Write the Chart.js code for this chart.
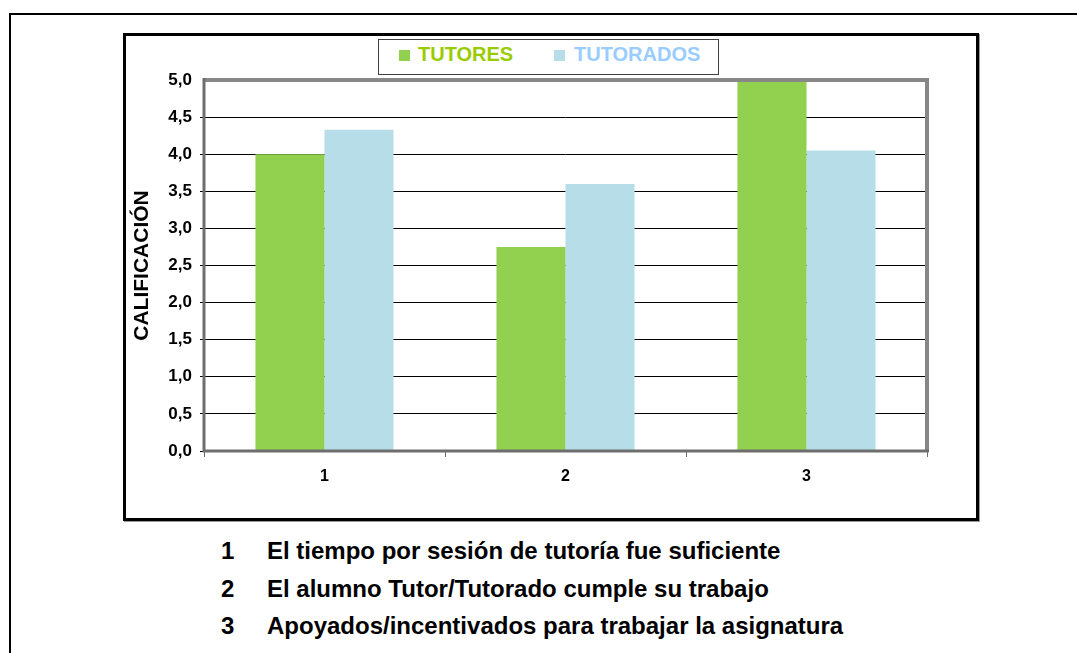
<!DOCTYPE html>
<html>
<head>
<meta charset="utf-8">
<script src="https://cdn.jsdelivr.net/npm/chart.js@4"></script>
<style>
  html, body { margin:0; padding:0; background:#fff; }
  body { width:1077px; height:653px; position:relative; overflow:hidden; font-family:"Liberation Sans", Arial, sans-serif; }
  #outer { position:absolute; left:9px; top:13px; width:1200px; height:800px; border-left:2px solid #000; border-top:2px solid #000; }
  #inner { position:absolute; left:123px; top:33px; width:856px; height:488px; border:3px solid #000; box-sizing:border-box; box-shadow:1px 1px 0 #999; }
  #wrap { position:absolute; left:126px; top:36px; width:850px; height:482px; }
  #legend { position:absolute; left:378px; top:39px; width:341px; height:36px; border:1px solid #404040; box-sizing:border-box; background:#fff; }
  .sw { position:absolute; width:11px; height:11px; top:50px; }
  .lt { position:absolute; top:44px; font:bold 20px "Liberation Sans", Arial, sans-serif; line-height:20px; white-space:nowrap; }
  .note { position:absolute; font:bold 24px "Liberation Sans", Arial, sans-serif; line-height:24px; white-space:nowrap; color:#000; }
</style>
</head>
<body>
<div id="outer"></div>
<div id="inner"></div>
<div id="wrap"><canvas id="c"></canvas></div>
<div id="legend"></div>
<div id="legendItems"></div>
<div id="notes"></div>
<script>
const categories = ["1", "2", "3"];
const seriesNames = ["TUTORES", "TUTORADOS"];
const tutores = [4.0, 2.75, 5.0];
const tutorados = [4.33, 3.6, 4.05];
const yTicks = [0, 0.5, 1, 1.5, 2, 2.5, 3, 3.5, 4, 4.5, 5];
const notes = [
  ["1", "El tiempo por sesión de tutoría fue suficiente"],
  ["2", "El alumno Tutor/Tutorado cumple su trabajo"],
  ["3", "Apoyados/incentivados para trabajar la asignatura"]
];
const barColors = ["#92D050", "#B7DEE8"];
const legendTextColors = ["#99CC00", "#99CCFF"];

// HTML legend
const li = document.getElementById('legendItems');
const legendPos = [[399, 418], [554, 574]];
seriesNames.forEach((n, i) => {
  const s = document.createElement('div');
  s.className = 'sw'; s.style.left = legendPos[i][0] + 'px'; s.style.background = barColors[i];
  li.appendChild(s);
  const t = document.createElement('div');
  t.className = 'lt'; t.style.left = legendPos[i][1] + 'px'; t.style.color = legendTextColors[i];
  t.textContent = n;
  li.appendChild(t);
});
// notes below chart
const nd = document.getElementById('notes');
notes.forEach((n, i) => {
  const a = document.createElement('div');
  a.className = 'note'; a.style.left = '221px'; a.style.top = (539 + i * 37.5) + 'px';
  a.textContent = n[0]; nd.appendChild(a);
  const b = document.createElement('div');
  b.className = 'note'; b.style.left = '267px'; b.style.top = (539 + i * 37.5) + 'px';
  b.textContent = n[1]; nd.appendChild(b);
});

const framePlugin = {
  id: 'frame',
  afterDatasetsDraw(chart) {
    const { ctx, chartArea: a } = chart;
    ctx.save();
    ctx.strokeStyle = '#878787';
    ctx.lineWidth = 4;
    ctx.beginPath();
    ctx.moveTo(a.left, a.top);
    ctx.lineTo(a.right, a.top);
    ctx.lineTo(a.right, a.bottom);
    ctx.stroke();
    ctx.strokeStyle = '#6e6e6e';
    ctx.lineWidth = 3;
    ctx.beginPath();
    ctx.moveTo(a.left, a.top - 2);
    ctx.lineTo(a.left, a.bottom);
    ctx.lineTo(a.right + 2, a.bottom);
    ctx.stroke();
    ctx.restore();
  }
};

new Chart(document.getElementById('c'), {
  type: 'bar',
  data: {
    labels: categories,
    datasets: [
      { label: seriesNames[0], data: tutores, backgroundColor: barColors[0], borderWidth: 0 },
      { label: seriesNames[1], data: tutorados, backgroundColor: barColors[1], borderWidth: 0 }
    ]
  },
  options: {
    responsive: true,
    maintainAspectRatio: false,
    animation: false,
    layout: { padding: { top: 44, right: 49, left: 0, bottom: 0 } },
    plugins: { legend: { display: false }, tooltip: { enabled: false } },
    datasets: { bar: { categoryPercentage: 0.573, barPercentage: 1.0 } },
    scales: {
      x: {
        grid: { offset: true, drawOnChartArea: false, drawTicks: true, tickLength: 6, color: '#6e6e6e', lineWidth: 1 },
        border: { display: false },
        ticks: { color: '#000', font: { family: 'Liberation Sans', weight: 'bold', size: 16 }, padding: 10 },
        afterFit(s) { s.height = 67; }
      },
      y: {
        min: 0, max: 5,
        afterBuildTicks(s) { s.ticks = yTicks.map(v => ({ value: v })); },
        grid: {
          color: ctx => (ctx.tick && ctx.tick.value === 5) ? 'rgba(0,0,0,0)' : '#000',
          lineWidth: 1, tickLength: 4, drawTicks: true
        },
        border: { display: false },
        ticks: {
          color: '#000', padding: 8,
          font: { family: 'Liberation Sans', weight: 'bold', size: 17 },
          callback: v => v.toFixed(1).replace('.', ',')
        },
        title: {
          display: true, text: 'CALIFICACIÓN', color: '#000',
          font: { family: 'Liberation Sans', weight: 'bold', size: 21 },
          padding: { top: 4, bottom: 0 }
        },
        afterFit(s) { s.width = 78; }
      }
    }
  },
  plugins: [framePlugin]
});
</script>
</body>
</html>
